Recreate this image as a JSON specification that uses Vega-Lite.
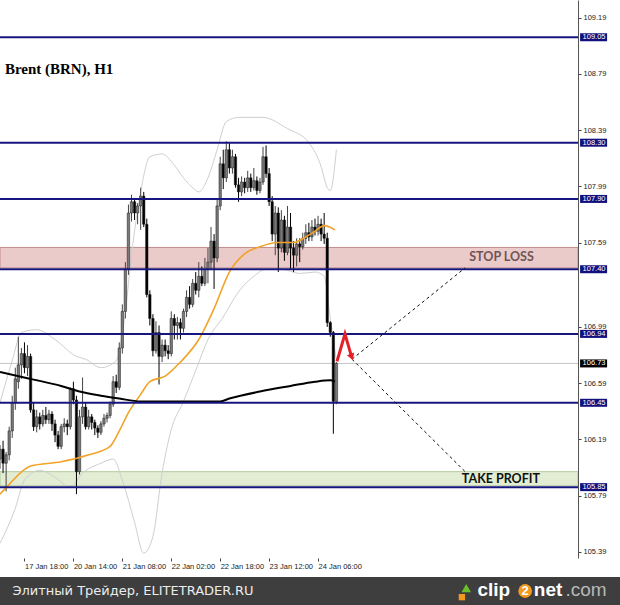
{
  "$schema": "https://vega.github.io/schema/vega-lite/v6.json",
  "padding": 0,
  "spacing": 0,
  "center": false,
  "background": "white",
  "config": {"view": {"stroke": null}, "concat": {"spacing": 0}},
  "resolve": {"scale": {"x": "independent", "y": "independent"}},
  "datasets": {
    "candles": [
      {"n":0,"o":106.05,"h":106.15,"l":105.98,"c":106.12},
      {"n":1,"o":106.12,"h":106.18,"l":105.95,"c":106.02},
      {"n":2,"o":106.02,"h":106.10,"l":105.82,"c":106.08},
      {"n":3,"o":106.08,"h":106.28,"l":106.04,"c":106.25},
      {"n":4,"o":106.25,"h":106.50,"l":106.20,"c":106.45},
      {"n":5,"o":106.45,"h":106.70,"l":106.40,"c":106.62},
      {"n":6,"o":106.60,"h":106.92,"l":106.55,"c":106.72},
      {"n":7,"o":106.72,"h":106.84,"l":106.62,"c":106.80},
      {"n":8,"o":106.80,"h":106.88,"l":106.66,"c":106.70},
      {"n":9,"o":106.70,"h":106.86,"l":106.64,"c":106.78},
      {"n":10,"o":106.78,"h":106.80,"l":106.38,"c":106.40},
      {"n":11,"o":106.40,"h":106.45,"l":106.25,"c":106.28},
      {"n":12,"o":106.28,"h":106.40,"l":106.24,"c":106.35},
      {"n":13,"o":106.35,"h":106.38,"l":106.26,"c":106.30},
      {"n":14,"o":106.30,"h":106.40,"l":106.28,"c":106.36},
      {"n":15,"o":106.36,"h":106.42,"l":106.30,"c":106.33},
      {"n":16,"o":106.33,"h":106.40,"l":106.30,"c":106.37},
      {"n":17,"o":106.37,"h":106.39,"l":106.25,"c":106.30},
      {"n":18,"o":106.30,"h":106.33,"l":106.17,"c":106.22},
      {"n":19,"o":106.22,"h":106.25,"l":106.12,"c":106.14},
      {"n":20,"o":106.14,"h":106.30,"l":106.12,"c":106.28},
      {"n":21,"o":106.28,"h":106.34,"l":106.24,"c":106.30},
      {"n":22,"o":106.30,"h":106.33,"l":106.22,"c":106.28},
      {"n":23,"o":106.28,"h":106.56,"l":106.26,"c":106.55},
      {"n":24,"o":106.55,"h":106.60,"l":106.44,"c":106.47},
      {"n":25,"o":106.47,"h":106.50,"l":105.80,"c":105.96},
      {"n":26,"o":105.96,"h":106.40,"l":105.94,"c":106.35},
      {"n":27,"o":106.35,"h":106.63,"l":106.30,"c":106.42},
      {"n":28,"o":106.42,"h":106.45,"l":106.26,"c":106.28},
      {"n":29,"o":106.28,"h":106.40,"l":106.26,"c":106.35},
      {"n":30,"o":106.35,"h":106.37,"l":106.26,"c":106.31},
      {"n":31,"o":106.31,"h":106.33,"l":106.22,"c":106.27},
      {"n":32,"o":106.27,"h":106.29,"l":106.20,"c":106.24},
      {"n":33,"o":106.24,"h":106.32,"l":106.22,"c":106.30},
      {"n":34,"o":106.30,"h":106.37,"l":106.28,"c":106.34},
      {"n":35,"o":106.34,"h":106.38,"l":106.31,"c":106.36},
      {"n":36,"o":106.36,"h":106.46,"l":106.34,"c":106.44},
      {"n":37,"o":106.44,"h":106.64,"l":106.42,"c":106.60},
      {"n":38,"o":106.60,"h":106.65,"l":106.52,"c":106.56},
      {"n":39,"o":106.56,"h":106.88,"l":106.54,"c":106.84},
      {"n":40,"o":106.84,"h":107.15,"l":106.80,"c":107.10},
      {"n":41,"o":107.10,"h":107.45,"l":107.05,"c":107.40},
      {"n":42,"o":107.40,"h":107.86,"l":107.36,"c":107.80},
      {"n":43,"o":107.80,"h":107.93,"l":107.74,"c":107.88},
      {"n":44,"o":107.88,"h":107.90,"l":107.75,"c":107.80},
      {"n":45,"o":107.80,"h":107.87,"l":107.72,"c":107.85},
      {"n":46,"o":107.85,"h":107.98,"l":107.68,"c":107.92},
      {"n":47,"o":107.92,"h":107.95,"l":107.70,"c":107.72},
      {"n":48,"o":107.72,"h":107.76,"l":107.20,"c":107.22},
      {"n":49,"o":107.22,"h":107.25,"l":107.00,"c":107.05},
      {"n":50,"o":107.05,"h":107.08,"l":106.78,"c":106.82},
      {"n":51,"o":106.82,"h":107.03,"l":106.80,"c":106.95},
      {"n":52,"o":106.95,"h":107.00,"l":106.58,"c":106.78},
      {"n":53,"o":106.78,"h":106.90,"l":106.74,"c":106.86},
      {"n":54,"o":106.86,"h":106.90,"l":106.78,"c":106.82},
      {"n":55,"o":106.82,"h":106.86,"l":106.76,"c":106.80},
      {"n":56,"o":106.80,"h":107.10,"l":106.78,"c":107.05},
      {"n":57,"o":107.05,"h":107.08,"l":106.90,"c":107.00},
      {"n":58,"o":107.00,"h":107.06,"l":106.90,"c":107.02},
      {"n":59,"o":107.02,"h":107.05,"l":106.90,"c":106.98},
      {"n":60,"o":106.98,"h":107.12,"l":106.95,"c":107.10},
      {"n":61,"o":107.10,"h":107.25,"l":107.06,"c":107.20},
      {"n":62,"o":107.20,"h":107.28,"l":107.12,"c":107.15},
      {"n":63,"o":107.15,"h":107.33,"l":107.13,"c":107.30},
      {"n":64,"o":107.30,"h":107.38,"l":107.22,"c":107.25},
      {"n":65,"o":107.25,"h":107.45,"l":107.20,"c":107.35},
      {"n":66,"o":107.35,"h":107.42,"l":107.28,"c":107.30},
      {"n":67,"o":107.30,"h":107.48,"l":107.28,"c":107.40},
      {"n":68,"o":107.40,"h":107.55,"l":107.30,"c":107.45},
      {"n":69,"o":107.45,"h":107.70,"l":107.40,"c":107.60},
      {"n":70,"o":107.60,"h":107.65,"l":107.26,"c":107.48},
      {"n":71,"o":107.48,"h":107.90,"l":107.45,"c":107.85},
      {"n":72,"o":107.85,"h":108.20,"l":107.82,"c":108.15},
      {"n":73,"o":108.15,"h":108.25,"l":107.97,"c":108.05},
      {"n":74,"o":108.05,"h":108.31,"l":108.02,"c":108.25},
      {"n":75,"o":108.25,"h":108.30,"l":108.08,"c":108.12},
      {"n":76,"o":108.12,"h":108.25,"l":108.08,"c":108.20},
      {"n":77,"o":108.20,"h":108.22,"l":107.98,"c":108.00},
      {"n":78,"o":108.00,"h":108.05,"l":107.88,"c":107.95},
      {"n":79,"o":107.95,"h":108.06,"l":107.92,"c":108.02},
      {"n":80,"o":108.02,"h":108.05,"l":107.94,"c":107.98},
      {"n":81,"o":107.98,"h":108.10,"l":107.95,"c":108.05},
      {"n":82,"o":108.05,"h":108.08,"l":107.95,"c":107.98},
      {"n":83,"o":107.98,"h":108.12,"l":107.96,"c":108.03},
      {"n":84,"o":108.03,"h":108.06,"l":107.93,"c":107.96},
      {"n":85,"o":107.96,"h":108.05,"l":107.94,"c":108.02},
      {"n":86,"o":108.02,"h":108.27,"l":108.00,"c":108.20},
      {"n":87,"o":108.20,"h":108.28,"l":108.05,"c":108.08},
      {"n":88,"o":108.08,"h":108.12,"l":107.85,"c":107.88},
      {"n":89,"o":107.88,"h":107.92,"l":107.60,"c":107.65},
      {"n":90,"o":107.65,"h":107.85,"l":107.50,"c":107.80},
      {"n":91,"o":107.80,"h":107.84,"l":107.38,"c":107.55},
      {"n":92,"o":107.55,"h":107.82,"l":107.52,"c":107.75},
      {"n":93,"o":107.75,"h":107.78,"l":107.46,"c":107.52},
      {"n":94,"o":107.52,"h":107.85,"l":107.50,"c":107.70},
      {"n":95,"o":107.70,"h":107.80,"l":107.40,"c":107.55},
      {"n":96,"o":107.55,"h":107.60,"l":107.38,"c":107.50},
      {"n":97,"o":107.50,"h":107.62,"l":107.42,"c":107.58},
      {"n":98,"o":107.58,"h":107.62,"l":107.45,"c":107.56},
      {"n":99,"o":107.56,"h":107.66,"l":107.54,"c":107.62},
      {"n":100,"o":107.62,"h":107.72,"l":107.58,"c":107.66},
      {"n":101,"o":107.66,"h":107.73,"l":107.60,"c":107.63},
      {"n":102,"o":107.63,"h":107.75,"l":107.60,"c":107.70},
      {"n":103,"o":107.70,"h":107.76,"l":107.64,"c":107.67},
      {"n":104,"o":107.67,"h":107.78,"l":107.64,"c":107.72},
      {"n":105,"o":107.72,"h":107.76,"l":107.60,"c":107.65},
      {"n":106,"o":107.65,"h":107.80,"l":107.58,"c":107.62},
      {"n":107,"o":107.62,"h":107.66,"l":106.99,"c":107.02},
      {"n":108,"o":107.02,"h":107.03,"l":106.92,"c":106.95},
      {"n":109,"o":106.95,"h":106.96,"l":106.23,"c":106.46},
      {"n":110,"o":106.46,"h":106.74,"l":106.44,"c":106.73}
    ],
    "maFast": [
      {"n":0,"v":105.80},{"n":3,"v":105.87},{"n":10,"v":106.00},{"n":20,"v":106.03},
      {"n":29,"v":106.08},{"n":36,"v":106.14},{"n":39,"v":106.25},{"n":42,"v":106.38},
      {"n":46,"v":106.51},{"n":49,"v":106.60},{"n":54,"v":106.64},{"n":59,"v":106.74},
      {"n":65,"v":106.90},{"n":70,"v":107.12},{"n":75,"v":107.38},{"n":80,"v":107.51},
      {"n":85,"v":107.56},{"n":91,"v":107.59},{"n":96,"v":107.59},{"n":100,"v":107.63},
      {"n":103,"v":107.67},{"n":106,"v":107.71},{"n":109.5,"v":107.68}
    ],
    "maSlow": [
      {"n":0,"v":106.67},{"n":10,"v":106.62},{"n":20,"v":106.57},{"n":26,"v":106.53},
      {"n":33,"v":106.50},{"n":39,"v":106.48},{"n":46,"v":106.46},{"n":55,"v":106.46},
      {"n":65,"v":106.46},{"n":72,"v":106.46},{"n":75,"v":106.48},{"n":85,"v":106.53},
      {"n":95,"v":106.57},{"n":103,"v":106.60},{"n":108,"v":106.61},{"n":109.5,"v":106.60}
    ],
    "bands": [
      {"b":"up","n":0,"v":106.45},{"b":"up","n":4,"v":106.75},{"b":"up","n":7,"v":106.95},
      {"b":"up","n":12,"v":106.97},{"b":"up","n":18,"v":106.90},{"b":"up","n":25,"v":106.78},
      {"b":"up","n":28,"v":106.76},{"b":"up","n":33,"v":106.70},{"b":"up","n":38,"v":106.75},
      {"b":"up","n":41,"v":107.10},{"b":"up","n":43,"v":107.50},{"b":"up","n":46,"v":107.95},
      {"b":"up","n":49,"v":108.20},{"b":"up","n":53,"v":108.22},{"b":"up","n":57,"v":108.14},
      {"b":"up","n":60,"v":108.05},{"b":"up","n":63,"v":107.98},{"b":"up","n":65,"v":107.95},
      {"b":"up","n":68,"v":108.05},{"b":"up","n":71,"v":108.25},{"b":"up","n":74,"v":108.45},
      {"b":"up","n":78,"v":108.48},{"b":"up","n":86,"v":108.48},{"b":"up","n":94,"v":108.40},
      {"b":"up","n":101,"v":108.30},{"b":"up","n":105,"v":108.13},{"b":"up","n":107,"v":107.98},
      {"b":"up","n":108,"v":107.96},{"b":"up","n":110,"v":108.25},
      {"b":"lo","n":0,"v":105.45},{"b":"lo","n":5,"v":105.70},{"b":"lo","n":8,"v":105.90},
      {"b":"lo","n":13,"v":105.97},{"b":"lo","n":18,"v":105.92},{"b":"lo","n":23,"v":105.85},
      {"b":"lo","n":27,"v":105.95},{"b":"lo","n":33,"v":106.02},{"b":"lo","n":37,"v":106.05},
      {"b":"lo","n":40,"v":105.90},{"b":"lo","n":44,"v":105.60},{"b":"lo","n":47,"v":105.38},
      {"b":"lo","n":50,"v":105.50},{"b":"lo","n":53,"v":105.95},{"b":"lo","n":56,"v":106.26},
      {"b":"lo","n":60,"v":106.46},{"b":"lo","n":64,"v":106.68},{"b":"lo","n":68,"v":106.90},
      {"b":"lo","n":73,"v":107.06},{"b":"lo","n":78,"v":107.24},{"b":"lo","n":83,"v":107.35},
      {"b":"lo","n":87,"v":107.40},{"b":"lo","n":92,"v":107.40},{"b":"lo","n":98,"v":107.37},
      {"b":"lo","n":103,"v":107.38},{"b":"lo","n":106,"v":107.35},{"b":"lo","n":108,"v":107.05},
      {"b":"lo","n":110,"v":106.75}
    ],
    "levels": [{"p":109.05},{"p":108.30},{"p":107.90},{"p":107.40},{"p":106.94},{"p":106.45},{"p":105.85}],
    "zones": [
      {"zone":"stop","top":107.555,"bottom":107.41},
      {"zone":"take","top":105.96,"bottom":105.86}
    ],
    "dashes": [
      {"seg":"sl","n":115.1,"p":106.76},{"seg":"sl","n":152.1,"p":107.41},
      {"seg":"tp","n":115.1,"p":106.76},{"seg":"tp","n":152.1,"p":105.96}
    ],
    "arrow": [
      {"k":0,"n":110.2,"p":106.745},{"k":1,"n":112.8,"p":106.94},{"k":2,"n":115.0,"p":106.775}
    ]
  },
  "vconcat": [
    {
      "width": 578,
      "height": 558,
      "layer": [
        {
          "data": {"name": "zones"},
          "transform": [{"filter": "datum.zone == 'stop'"}],
          "mark": {"type": "rect", "fill": "#ebcaca", "stroke": "#c08c8c", "strokeWidth": 1, "clip": true},
          "encoding": {
            "x": {"datum": 0, "type": "quantitative", "scale": {"domain": [0, 189], "nice": false, "zero": false, "padding": 0}},
            "x2": {"datum": 189},
            "y": {"field": "top", "type": "quantitative", "scale": {"domain": [105.346, 109.315], "nice": false, "zero": false}},
            "y2": {"field": "bottom"}
          }
        },
        {
          "data": {"name": "zones"},
          "transform": [{"filter": "datum.zone == 'take'"}],
          "mark": {"type": "rect", "fill": "#e2edd4", "stroke": "#b4c99c", "strokeWidth": 1, "clip": true},
          "encoding": {
            "x": {"datum": 0, "type": "quantitative"},
            "x2": {"datum": 189},
            "y": {"field": "top", "type": "quantitative"},
            "y2": {"field": "bottom"}
          }
        },
        {
          "data": {"name": "bands"},
          "mark": {"type": "line", "color": "#cfcfcf", "strokeWidth": 1, "interpolate": "monotone", "clip": true},
          "encoding": {
            "x": {"field": "n", "type": "quantitative"},
            "y": {"field": "v", "type": "quantitative"},
            "detail": {"field": "b"}
          }
        },
        {
          "data": {"values": [{"p": 106.73}]},
          "mark": {"type": "rule", "color": "#c4c4c4", "strokeWidth": 1, "clip": true},
          "encoding": {"y": {"field": "p", "type": "quantitative"}}
        },
        {
          "data": {"name": "candles"},
          "mark": {"type": "rule", "strokeWidth": 1, "clip": true},
          "encoding": {
            "x": {"field": "n", "type": "quantitative", "title": null,
              "axis": {"orient": "bottom", "values": [8, 24, 40, 56, 72, 88, 104],
                "labelExpr": "datum.value == 8 ? '17 Jan 18:00' : datum.value == 24 ? '20 Jan 14:00' : datum.value == 40 ? '21 Jan 08:00' : datum.value == 56 ? '22 Jan 02:00' : datum.value == 72 ? '22 Jan 18:00' : datum.value == 88 ? '23 Jan 12:00' : '24 Jan 06:00'",
                "labelAlign": "left", "labelBaseline": "top", "labelFlush": false, "labelFont": "Liberation Sans", "labelFontSize": 7.5, "labelColor": "#222",
                "tickSize": 3, "tickColor": "#444", "labelPadding": 1, "domain": false, "grid": false, "minExtent": 19, "maxExtent": 19}},
            "y": {"field": "l", "type": "quantitative", "title": null,
              "axis": {"orient": "right", "values": [105.39,105.59,105.79,105.99,106.19,106.39,106.59,106.79,106.99,107.19,107.59,107.79,107.99,108.19,108.39,108.59,108.79,108.99,109.19],
                "format": ".2f", "labelFont": "Liberation Sans", "labelFontSize": 7.5, "labelColor": "#222", "labelFlush": false,
                "tickSize": 3, "tickColor": "#444", "domainColor": "#555", "labelPadding": 2, "grid": false, "minExtent": 42, "maxExtent": 42}},
            "y2": {"field": "h"},
            "color": {"condition": {"test": "datum.c < datum.o", "value": "#000000"}, "value": "#444444"}
          }
        },
        {
          "data": {"name": "candles"},
          "mark": {"type": "bar", "size": 2.4, "stroke": "#1a1a1a", "strokeWidth": 0.5, "clip": true},
          "encoding": {
            "x": {"field": "n", "type": "quantitative"},
            "y": {"field": "o", "type": "quantitative"},
            "y2": {"field": "c"},
            "color": {"condition": {"test": "datum.c < datum.o", "value": "#000000"}, "value": "#7a7a7a"}
          }
        },
        {
          "data": {"name": "maFast"},
          "mark": {"type": "line", "color": "#f2a327", "strokeWidth": 1.6, "interpolate": "monotone", "clip": true},
          "encoding": {"x": {"field": "n", "type": "quantitative"}, "y": {"field": "v", "type": "quantitative"}}
        },
        {
          "data": {"name": "maSlow"},
          "mark": {"type": "line", "color": "#000000", "strokeWidth": 2, "interpolate": "monotone", "clip": true},
          "encoding": {"x": {"field": "n", "type": "quantitative"}, "y": {"field": "v", "type": "quantitative"}}
        },
        {
          "data": {"name": "levels"},
          "mark": {"type": "rule", "color": "#16167e", "strokeWidth": 2, "clip": true},
          "encoding": {"y": {"field": "p", "type": "quantitative"}}
        },
        {
          "data": {"name": "dashes"},
          "mark": {"type": "line", "color": "#111111", "strokeWidth": 1, "strokeDash": [3, 3], "clip": true},
          "encoding": {"x": {"field": "n", "type": "quantitative"}, "y": {"field": "p", "type": "quantitative"}, "detail": {"field": "seg"}}
        },
        {
          "data": {"name": "arrow"},
          "mark": {"type": "line", "color": "#e3202a", "strokeWidth": 3, "clip": true},
          "encoding": {"x": {"field": "n", "type": "quantitative"}, "y": {"field": "p", "type": "quantitative"}, "order": {"field": "k"}}
        },
        {
          "data": {"name": "arrow"},
          "transform": [{"filter": "datum.k == 2"}],
          "mark": {"type": "point", "shape": "triangle-down", "filled": true, "color": "#e3202a", "size": 60, "angle": 340, "opacity": 1, "clip": true},
          "encoding": {"x": {"field": "n", "type": "quantitative"}, "y": {"field": "p", "type": "quantitative"}}
        },
        {
          "data": {"values": [{"t": "STOP LOSS", "n": 164.0, "p": 107.487}]},
          "mark": {"type": "text", "font": "Lato", "fontWeight": "bold", "fontSize": 12.5, "color": "#6e5656", "align": "center", "baseline": "middle", "clip": true},
          "encoding": {"x": {"field": "n", "type": "quantitative"}, "y": {"field": "p", "type": "quantitative"}, "text": {"field": "t"}}
        },
        {
          "data": {"values": [{"t": "TAKE PROFIT", "n": 163.8, "p": 105.908}]},
          "mark": {"type": "text", "font": "Lato", "fontWeight": "bold", "fontSize": 12.5, "color": "#111111", "align": "center", "baseline": "middle", "clip": true},
          "encoding": {"x": {"field": "n", "type": "quantitative"}, "y": {"field": "p", "type": "quantitative"}, "text": {"field": "t"}}
        },
        {
          "data": {"values": [{"t": "Brent (BRN), H1"}]},
          "mark": {"type": "text", "font": "Liberation Serif", "fontWeight": "bold", "fontSize": 15, "color": "#000000", "align": "left", "baseline": "alphabetic", "clip": true},
          "encoding": {"x": {"datum": 1.6, "type": "quantitative"}, "y": {"datum": 108.789, "type": "quantitative"}, "text": {"field": "t"}}
        },
        {
          "data": {"name": "levels"},
          "mark": {"type": "tick", "orient": "horizontal", "size": 27, "thickness": 8, "color": "#10107e", "opacity": 1, "clip": false},
          "encoding": {"x": {"datum": 194.1, "type": "quantitative"}, "y": {"field": "p", "type": "quantitative"}}
        },
        {
          "data": {"values": [{"p": 106.73}]},
          "mark": {"type": "tick", "orient": "horizontal", "size": 27, "thickness": 8, "color": "#000000", "opacity": 1, "clip": false},
          "encoding": {"x": {"datum": 194.1, "type": "quantitative"}, "y": {"field": "p", "type": "quantitative"}}
        },
        {
          "data": {"values": [{"p": 109.05}, {"p": 108.30}, {"p": 107.90}, {"p": 107.40}, {"p": 106.94}, {"p": 106.73}, {"p": 106.45}, {"p": 105.85}]},
          "mark": {"type": "text", "font": "Liberation Sans", "fontSize": 7.5, "color": "#ffffff", "align": "left", "baseline": "middle", "clip": false},
          "encoding": {"x": {"datum": 190.5, "type": "quantitative"}, "y": {"field": "p", "type": "quantitative"}, "text": {"field": "p", "type": "quantitative", "format": ".2f"}}
        }
      ]
    },
    {
      "width": 620,
      "height": 28,
      "view": {"fill": "#3e3e3e", "stroke": null},
      "layer": [
        {
          "data": {"values": [{"t": "Элитный Трейдер, ELITETRADER.RU"}]},
          "mark": {"type": "text", "font": "DejaVu Sans", "fontSize": 13, "color": "#ececec", "align": "left", "baseline": "middle"},
          "encoding": {
            "x": {"datum": 0.02, "type": "quantitative", "scale": {"domain": [0, 1], "nice": false, "zero": false}, "axis": null},
            "y": {"datum": 0.5, "type": "quantitative", "scale": {"domain": [0, 1], "nice": false, "zero": false}, "axis": null},
            "text": {"field": "t"}
          }
        },
        {
          "data": {"values": [{"t": "clip"}]},
          "mark": {"type": "text", "font": "Liberation Sans", "fontWeight": "bold", "fontSize": 19, "color": "#ffffff", "align": "left", "baseline": "middle"},
          "encoding": {"x": {"datum": 0.770, "type": "quantitative"}, "y": {"datum": 0.52, "type": "quantitative"}, "text": {"field": "t"}}
        },
        {
          "data": {"values": [{"t": "2"}]},
          "mark": {"type": "point", "shape": "circle", "filled": true, "color": "#f39a1e", "size": 190, "opacity": 1},
          "encoding": {"x": {"datum": 0.847, "type": "quantitative"}, "y": {"datum": 0.5, "type": "quantitative"}}
        },
        {
          "data": {"values": [{"t": "2"}]},
          "mark": {"type": "text", "font": "Liberation Sans", "fontWeight": "bold", "fontSize": 13, "color": "#ffffff", "align": "center", "baseline": "middle"},
          "encoding": {"x": {"datum": 0.847, "type": "quantitative"}, "y": {"datum": 0.5, "type": "quantitative"}, "text": {"field": "t"}}
        },
        {
          "data": {"values": [{"t": "net"}]},
          "mark": {"type": "text", "font": "Liberation Sans", "fontWeight": "bold", "fontSize": 19, "color": "#ffffff", "align": "left", "baseline": "middle"},
          "encoding": {"x": {"datum": 0.861, "type": "quantitative"}, "y": {"datum": 0.52, "type": "quantitative"}, "text": {"field": "t"}}
        },
        {
          "data": {"values": [{"t": ".com"}]},
          "mark": {"type": "text", "font": "Liberation Sans", "fontSize": 19, "color": "#b8b8b8", "align": "left", "baseline": "middle"},
          "encoding": {"x": {"datum": 0.912, "type": "quantitative"}, "y": {"datum": 0.52, "type": "quantitative"}, "text": {"field": "t"}}
        },
        {
          "data": {"values": [{"t": "icon"}]},
          "mark": {"type": "point", "shape": "triangle-up", "filled": true, "color": "#6cbf2a", "size": 90, "opacity": 1},
          "encoding": {"x": {"datum": 0.752, "type": "quantitative"}, "y": {"datum": 0.6, "type": "quantitative"}}
        },
        {
          "data": {"values": [{"t": "icon"}]},
          "mark": {"type": "point", "shape": "square", "filled": true, "color": "#f39a1e", "size": 40, "opacity": 1},
          "encoding": {"x": {"datum": 0.745, "type": "quantitative"}, "y": {"datum": 0.28, "type": "quantitative"}}
        }
      ]
    }
  ]
}
